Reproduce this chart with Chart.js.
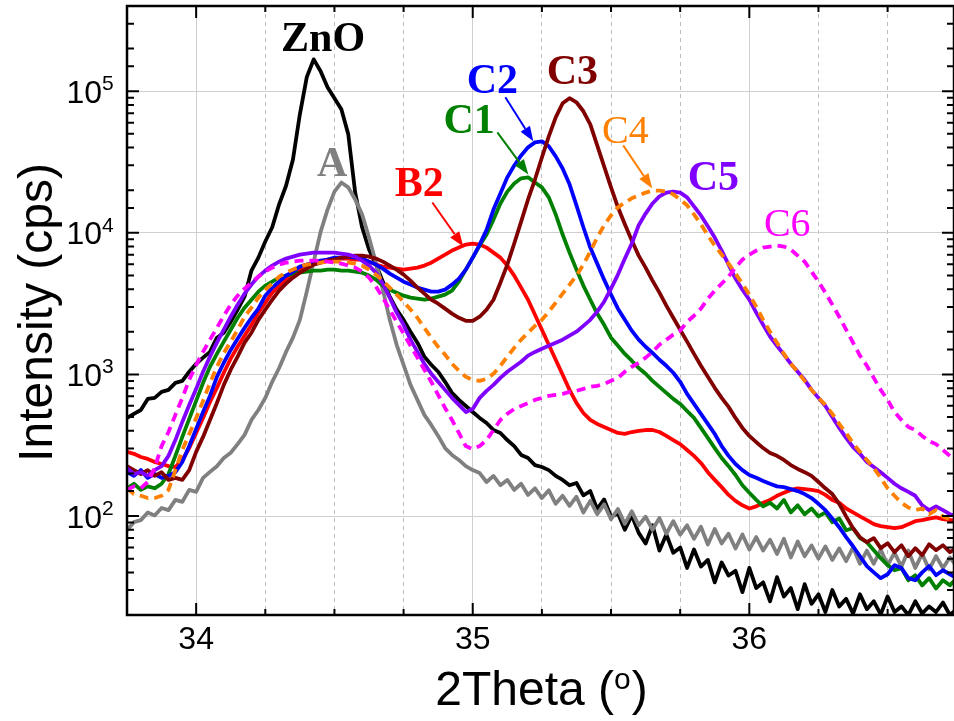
<!DOCTYPE html>
<html>
<head>
<meta charset="utf-8">
<title>ZnO (002) XRD scans</title>
<script src="https://cdn.jsdelivr.net/npm/chart.js@4.4.1/dist/chart.umd.min.js"></script>
<style>
  html, body { margin: 0; padding: 0; background: #fff; overflow: hidden; }
  canvas { display: block; }
</style>
</head>
<body>
<canvas id="xrd" width="954" height="721"></canvas>
<script>
// 2Theta grid (deg), shared by all scans
const theta = [
  33.75, 33.775, 33.8, 33.825, 33.85, 33.875, 33.9, 33.925, 33.95, 33.975,
  34, 34.025, 34.05, 34.075, 34.1, 34.125, 34.15, 34.175, 34.2, 34.225,
  34.25, 34.275, 34.3, 34.325, 34.35, 34.375, 34.4, 34.425, 34.45, 34.475,
  34.5, 34.525, 34.55, 34.575, 34.6, 34.625, 34.65, 34.675, 34.7, 34.725,
  34.75, 34.775, 34.8, 34.825, 34.85, 34.875, 34.9, 34.925, 34.95, 34.975,
  35, 35.025, 35.05, 35.075, 35.1, 35.125, 35.15, 35.175, 35.2, 35.225,
  35.25, 35.275, 35.3, 35.325, 35.35, 35.375, 35.4, 35.425, 35.45, 35.475,
  35.5, 35.525, 35.55, 35.575, 35.6, 35.625, 35.65, 35.675, 35.7, 35.725,
  35.75, 35.775, 35.8, 35.825, 35.85, 35.875, 35.9, 35.925, 35.95, 35.975,
  36, 36.025, 36.05, 36.075, 36.1, 36.125, 36.15, 36.175, 36.2, 36.225,
  36.25, 36.275, 36.3, 36.325, 36.35, 36.375, 36.4, 36.425, 36.45, 36.475,
  36.5, 36.525, 36.55, 36.575, 36.6, 36.625, 36.65, 36.675, 36.7, 36.725,
  36.75
];

// intensities (cps)
const znO = [
  493, 527, 561, 672, 683, 753, 778, 872, 901, 1045,
  1189, 1314, 1442, 1818, 1971, 2352, 2870, 3543, 5412, 6683,
  8690, 10950, 15900, 21500, 33000, 68700, 125700, 168000, 138400, 106600,
  89300, 74600, 49600, 19230, 10950, 7620, 5970, 4521, 3543, 2870,
  2430, 2004, 1676, 1336, 1170, 1045, 887, 741, 661, 599,
  543, 493, 454, 405, 386, 344, 312, 270, 257, 229,
  222, 211, 192, 180, 165, 171, 140, 150, 112, 131,
  99, 104, 80, 101, 76, 64, 86, 57, 74, 55,
  60, 43, 58, 44, 49, 34, 47, 38, 41, 29,
  43, 31, 34, 25, 37, 27, 31, 22, 33, 24,
  28, 21, 30, 23, 26, 20.5, 28, 22, 25, 20.2,
  27, 21, 23, 20, 25, 20.5, 23, 21, 24.5, 20,
  22
];

const sampleA = [
  79.4, 90.5, 93.5, 106, 101, 114, 110, 130, 126, 153,
  148, 186, 205, 225, 257, 280, 322, 374, 477, 561,
  683, 887, 1110, 1442, 1818, 2430, 3843, 6263, 10160, 14600,
  19550, 22660, 20940, 17200, 13500, 9260, 6160, 3970, 2430, 1620,
  1170, 844, 661, 518, 440, 368, 302, 270, 249, 225,
  211, 201, 174, 192, 165, 180, 153, 169, 141, 157,
  134, 152, 122, 139, 118, 137, 106, 128, 103, 121,
  95, 112, 88, 108, 86, 99, 80, 97, 75, 92,
  74, 86, 69, 84, 63, 81, 64, 75, 59, 74,
  58, 71, 57, 68, 54, 69, 51, 66, 52, 62,
  50, 61, 49, 59, 48, 60, 46, 57, 46, 58,
  45, 55, 44, 57, 43, 54, 42, 52, 43, 51,
  44
];

const b2 = [
  284, 275, 261, 253, 241, 233, 225, 222, 249, 302,
  386, 493, 640, 804, 1028, 1293, 1568, 1879, 2240, 2732,
  3208, 3780, 4241, 4670, 5070, 5412, 5779, 6062, 6263, 6470,
  6578, 6578, 6578, 6470, 6470, 6263, 5970, 5779, 5683, 5590,
  5500, 5590, 5683, 5870, 6160, 6578, 7020, 7498, 7864, 8260,
  8405, 8260, 7864, 7254, 6683, 5870, 4989, 4103, 3370, 2640,
  2070, 1620, 1270, 994, 778, 629, 534, 477, 447, 426,
  405, 386, 380, 392, 399, 405, 405, 392, 368, 344,
  322, 293, 266, 237, 204, 180, 160, 141, 128, 119,
  113, 117, 124, 130, 139, 146, 153, 157, 155, 153,
  150, 141, 130, 124, 113, 106, 99.4, 93.5, 87.6, 84.8,
  83.4, 82.1, 83.4, 87.6, 92, 93.5, 96, 97.7, 95, 93.5,
  93.5
];

const c1 = [
  157, 169, 153, 162, 157, 169, 198, 266, 362, 485,
  650, 872, 1133, 1396, 1704, 2070, 2513, 2961, 3370, 3843,
  4241, 4521, 4827, 4989, 5154, 5236, 5324, 5412, 5412, 5500,
  5500, 5412, 5412, 5324, 5236, 4989, 4670, 4241, 3970, 3780,
  3601, 3484, 3428, 3370, 3428, 3543, 3660, 3906, 4521, 5500,
  6683, 8128, 9730, 12400, 16120, 19550, 22300, 24270, 24660, 22660,
  20940, 17800, 13500, 9730, 7254, 5500, 4241, 3370, 2689, 2240,
  1818, 1594, 1396, 1250, 1110, 1012, 901, 817, 741, 672,
  619, 552, 493, 419, 356, 302, 257, 225, 195, 165,
  146, 130, 117, 124, 113, 130, 106, 119, 103, 113,
  99.4, 106, 90.5, 96, 79.4, 82.1, 69.8, 65.3, 57.4, 50.4,
  45, 41.4, 42.9, 35.2, 38.2, 32.4, 36.4, 30.8, 35.2, 32.4,
  36.4
];

const c2 = [
  204, 192, 211, 186, 198, 186, 192, 204, 241, 312,
  412, 543, 705, 962, 1209, 1490, 1790, 2133, 2513, 2914,
  3601, 4103, 4521, 4989, 5324, 5779, 5970, 6160, 6366, 6470,
  6683, 6683, 6790, 6683, 6578, 6263, 5970, 5590, 5154, 4827,
  4521, 4310, 4103, 3970, 3843, 3843, 3970, 4310, 4751, 5500,
  6683, 8260, 10500, 14600, 18930, 24660, 29910, 35220, 40170, 43510,
  44240, 40850, 34650, 28480, 22000, 15650, 10950, 7864, 6062, 4670,
  3660, 2914, 2430, 2037, 1760, 1568, 1418, 1270, 1151, 1028,
  887, 729, 619, 526, 447, 380, 312, 266, 233, 211,
  195, 186, 177, 169, 162, 160, 155, 150, 143, 134,
  122, 110, 96, 83.4, 70.9, 61.2, 52, 44.3, 40, 36.4,
  38.8, 45, 42.9, 36.4, 35.2, 40, 44.3, 38.2, 41.4, 38.8,
  36.4
];

const c3 = [
  225, 211, 198, 211, 192, 204, 180, 186, 180, 211,
  284, 362, 477, 629, 844, 1080, 1336, 1676, 1971, 2430,
  2870, 3370, 3906, 4376, 4827, 5236, 5594, 5970, 6160, 6366,
  6470, 6683, 6790, 6908, 6908, 6790, 6578, 6263, 5870, 5500,
  5070, 4595, 4103, 3720, 3370, 3158, 2914, 2689, 2513, 2391,
  2391, 2556, 2870, 3370, 4446, 5970, 8405, 12000, 17200, 23800,
  34080, 48010, 65400, 82270, 89300, 83590, 72210, 58400, 41520, 29430,
  20940, 15140, 11500, 8826, 6908, 5683, 4595, 3780, 3060, 2513,
  2070, 1704, 1396, 1151, 962, 804, 683, 590, 493, 419,
  368, 333, 302, 279, 266, 249, 229, 215, 204, 192,
  174, 157, 143, 122, 99.4, 82, 70.9, 65.3, 69.8, 59.3,
  64.3, 55.6, 62.2, 52, 59.3, 52.9, 63.2, 57.4, 62.2, 55.6,
  59.3
];

const c4 = [
  157, 143, 139, 134, 134, 139, 153, 211, 293, 380,
  493, 650, 872, 1133, 1418, 1704, 2070, 2556, 2961, 3484,
  3970, 4376, 4908, 5236, 5500, 5779, 5970, 6062, 6160, 6263,
  6263, 6263, 6160, 6062, 5870, 5500, 5070, 4595, 4103, 3660,
  3262, 2870, 2513, 2133, 1818, 1568, 1380, 1190, 1063, 962,
  916, 901, 931, 1012, 1151, 1336, 1542, 1760, 1971, 2204,
  2430, 2778, 3208, 3720, 4310, 4989, 5970, 7376, 9260, 11320,
  13280, 15140, 16370, 17520, 18400, 19230, 19880, 19880, 19550, 18700,
  17200, 15650, 13500, 11500, 9574, 8128, 7020, 6062, 5154, 4376,
  3660, 3010, 2430, 2004, 1676, 1396, 1190, 1045, 901, 778,
  683, 609, 526, 447, 386, 327, 284, 249, 218, 186,
  157, 139, 124, 115, 110, 113, 103, 110, 99.4, 95,
  92
];

const c5 = [
  218, 198, 204, 192, 211, 225, 266, 344, 462, 609,
  791, 1045, 1336, 1676, 2070, 2556, 3110, 3720, 4310, 4908,
  5412, 5870, 6263, 6578, 6790, 7020, 7140, 7254, 7254, 7254,
  7254, 7140, 7020, 6790, 6366, 5870, 5236, 4376, 3484, 2732,
  2240, 1760, 1442, 1190, 1012, 887, 778, 683, 609, 543,
  571, 683, 766, 844, 946, 1045, 1133, 1229, 1358, 1442,
  1518, 1594, 1676, 1760, 1879, 2004, 2204, 2430, 2778, 3262,
  4038, 5070, 6578, 8405, 11320, 13680, 16120, 18100, 19230, 19550,
  19230, 17800, 15390, 13280, 11130, 9260, 7498, 5970, 4751, 3970,
  3370, 2732, 2240, 1849, 1594, 1380, 1190, 1045, 916, 778,
  683, 599, 501, 419, 356, 307, 275, 241, 222, 204,
  186, 169, 157, 148, 139, 119, 110, 117, 110, 103,
  99.4
];

const c6 = [
  153, 162, 157, 174, 218, 312, 392, 518, 683, 916,
  1170, 1442, 1760, 2133, 2598, 3110, 3601, 4038, 4446, 4908,
  5324, 5683, 5970, 6160, 6263, 6366, 6366, 6366, 6366, 6263,
  6160, 6062, 5870, 5683, 5324, 4827, 4172, 3484, 2870, 2352,
  1940, 1594, 1314, 1080, 887, 717, 580, 477, 386, 312,
  297, 312, 344, 405, 477, 527, 571, 599, 629, 661,
  683, 706, 717, 729, 753, 766, 791, 817, 831, 858,
  901, 946, 1045, 1133, 1209, 1314, 1442, 1620, 1760, 1910,
  2037, 2352, 2598, 2914, 3428, 3906, 4376, 4908, 5683, 6470,
  7020, 7498, 7864, 7995, 8128, 7995, 7620, 6908, 6263, 5324,
  4521, 3780, 3110, 2556, 2070, 1676, 1358, 1151, 946, 778,
  661, 543, 477, 426, 405, 368, 338, 322, 293, 266,
  241
];

// sample tags, placed in data coordinates (2Theta, cps)
const tagText = ['ZnO', 'A', 'B2', 'C1', 'C2', 'C3', 'C4', 'C5', 'C6'];
const tagTheta = [34.459, 34.492, 34.807, 34.987, 35.071, 35.36, 35.552, 35.87, 36.137];
const tagCps = [241000, 31450, 22700, 63400, 121600, 140800, 53800, 25030, 11830];

// arrows from a tag down to its peak
const arrowTag = ['B2', 'C1', 'C2', 'C4'];
const arrowFrom = [[34.854, 16390], [35.089, 51260], [35.118, 90700], [35.544, 41480]];
const arrowTo = [[34.966, 8000], [35.201, 25860], [35.219, 44270], [35.649, 20580]];

const SANS = '"Liberation Sans", Arial, sans-serif';
const SERIF = '"Liberation Serif", "Times New Roman", serif';

const look = {
  'ZnO': { color: '#000000', bold: true },
  'A':   { color: '#808080', bold: true },
  'B2':  { color: '#ff0000', bold: true },
  'C1':  { color: '#008000', bold: true },
  'C2':  { color: '#0000ff', bold: true },
  'C3':  { color: '#800000', bold: true },
  'C4':  { color: '#ff8000', bold: false, dash: [9, 6] },
  'C5':  { color: '#8000ff', bold: true },
  'C6':  { color: '#ff00ff', bold: false, dash: [9, 6] },
};

// first entry is drawn on top
const scans = [
  ['C6', c6], ['C4', c4], ['C5', c5], ['C3', c3], ['C2', c2],
  ['C1', c1], ['B2', b2], ['A', sampleA], ['ZnO', znO],
];

const isWhole = v => Math.abs(v - Math.round(v)) < 1e-6;
const isDecade = v => Math.abs(Math.log10(v) - Math.round(Math.log10(v))) < 1e-6;

function drawArrow(ctx, x0, y0, x1, y1, color) {
  const ang = Math.atan2(y1 - y0, x1 - x0);
  const head = 15, half = 5.5;
  const bx = x1 - head * Math.cos(ang);
  const by = y1 - head * Math.sin(ang);
  ctx.strokeStyle = color;
  ctx.fillStyle = color;
  ctx.lineWidth = 2;
  ctx.beginPath();
  ctx.moveTo(x0, y0);
  ctx.lineTo(bx, by);
  ctx.stroke();
  ctx.beginPath();
  ctx.moveTo(x1, y1);
  ctx.lineTo(bx + half * Math.sin(ang), by - half * Math.cos(ang));
  ctx.lineTo(bx - half * Math.sin(ang), by + half * Math.cos(ang));
  ctx.closePath();
  ctx.fill();
}

// inward ticks on all four sides plus the closed frame
const frame = {
  id: 'frame',
  afterDatasetsDraw(chart) {
    const { ctx, chartArea: a, scales: { x, y } } = chart;
    ctx.save();
    ctx.strokeStyle = '#000';
    ctx.lineWidth = 2;
    ctx.beginPath();
    x.ticks.forEach(t => {
      const px = x.getPixelForValue(t.value);
      const len = isWhole(t.value) ? 12 : 6;
      ctx.moveTo(px, a.bottom);
      ctx.lineTo(px, a.bottom - len);
      ctx.moveTo(px, a.top);
      ctx.lineTo(px, a.top + len);
    });
    y.ticks.forEach(t => {
      const py = y.getPixelForValue(t.value);
      const len = isDecade(t.value) ? 12 : 7;
      ctx.moveTo(a.left, py);
      ctx.lineTo(a.left + len, py);
      ctx.moveTo(a.right, py);
      ctx.lineTo(a.right - len, py);
    });
    ctx.stroke();
    ctx.lineWidth = 2.5;
    ctx.strokeRect(a.left, a.top, a.right - a.left, a.bottom - a.top);
    ctx.restore();
  }
};

// power-of-ten labels, axis titles and sample tags
const texts = {
  id: 'texts',
  afterDraw(chart) {
    const { ctx, chartArea: a, scales: { x, y } } = chart;
    ctx.save();
    ctx.fillStyle = '#000';

    y.ticks.forEach(t => {
      if (!isDecade(t.value)) return;
      const py = y.getPixelForValue(t.value);
      const exp = Math.round(Math.log10(t.value));
      ctx.textBaseline = 'alphabetic';
      ctx.font = `32px ${SANS}`;
      ctx.textAlign = 'right';
      ctx.fillText('10', a.left - 25, py + 11.5);
      ctx.font = `21px ${SANS}`;
      ctx.textAlign = 'left';
      ctx.fillText(String(exp), a.left - 25, py - 1);
    });

    // y title
    ctx.save();
    ctx.translate(52, (a.top + a.bottom) / 2 + 2);
    ctx.rotate(-Math.PI / 2);
    ctx.font = `48px ${SANS}`;
    ctx.textAlign = 'center';
    ctx.textBaseline = 'alphabetic';
    ctx.fillText('Intensity (cps)', 0, 0);
    ctx.restore();

    // x title with superscript o
    const cx = (a.left + a.right) / 2 + 1;
    const base = a.bottom + 90;
    ctx.textAlign = 'left';
    ctx.textBaseline = 'alphabetic';
    ctx.font = `48px ${SANS}`;
    const w1 = ctx.measureText('2Theta (').width;
    const w3 = ctx.measureText(')').width;
    ctx.font = `30px ${SANS}`;
    const w2 = ctx.measureText('o').width + 1;
    let left = cx - (w1 + w2 + w3) / 2;
    ctx.font = `48px ${SANS}`;
    ctx.fillText('2Theta (', left, base);
    ctx.font = `30px ${SANS}`;
    ctx.fillText('o', left + w1, base - 16);
    ctx.font = `48px ${SANS}`;
    ctx.fillText(')', left + w1 + w2, base);

    // arrows
    arrowTag.forEach((tag, i) => {
      drawArrow(ctx,
        x.getPixelForValue(arrowFrom[i][0]), y.getPixelForValue(arrowFrom[i][1]),
        x.getPixelForValue(arrowTo[i][0]), y.getPixelForValue(arrowTo[i][1]),
        look[tag].color);
    });

    // tags
    ctx.textAlign = 'center';
    ctx.textBaseline = 'alphabetic';
    tagText.forEach((tag, i) => {
      const st = look[tag];
      const size = st.bold ? 42 : 40;
      ctx.font = `${st.bold ? 'bold ' : ''}${size}px ${SERIF}`;
      ctx.fillStyle = st.color;
      ctx.fillText(tag, x.getPixelForValue(tagTheta[i]), y.getPixelForValue(tagCps[i]) + 0.33 * size);
    });
    ctx.restore();
  }
};

Chart.defaults.font.family = SANS;
Chart.defaults.color = '#000';

new Chart(document.getElementById('xrd'), {
  type: 'line',
  data: {
    datasets: scans.map(([tag, values]) => ({
      label: tag,
      data: theta.map((t, i) => ({ x: t, y: values[i] })),
      borderColor: look[tag].color,
      borderWidth: 3.8,
      borderDash: look[tag].dash || [],
      borderCapStyle: 'butt',
      borderJoinStyle: 'round',
      tension: 0,
      pointRadius: 0,
      fill: false,
    })),
  },
  options: {
    responsive: false,
    animation: false,
    layout: { padding: { top: 6, right: 0, bottom: 0, left: 0 } },
    plugins: { legend: { display: false }, tooltip: { enabled: false } },
    scales: {
      x: {
        type: 'linear',
        min: 33.75,
        max: 36.74,
        afterFit: s => { s.height = 106; },
        border: {
          display: false,
          dash: c => (c.tick && !isWhole(c.tick.value) ? [4, 4] : []),
        },
        grid: {
          drawTicks: false,
          lineWidth: 1,
          color: c => (c.tick && isWhole(c.tick.value) ? '#cfcfcf' : '#bdbdbd'),
        },
        ticks: {
          stepSize: 0.25,
          includeBounds: false,
          autoSkip: false,
          maxRotation: 0,
          padding: 6,
          font: { size: 32 },
          color: '#000',
          callback: v => (isWhole(v) ? String(Math.round(v)) : ''),
        },
      },
      y: {
        type: 'logarithmic',
        min: 20,
        max: 400000,
        afterFit: s => { s.width = 127; },
        border: { display: false },
        grid: {
          drawTicks: false,
          lineWidth: 1,
          color: c => (c.tick && isDecade(c.tick.value) ? '#cfcfcf' : 'rgba(0,0,0,0)'),
        },
        ticks: { display: false, autoSkip: false },
      },
    },
  },
  plugins: [frame, texts],
});
</script>
</body>
</html>
